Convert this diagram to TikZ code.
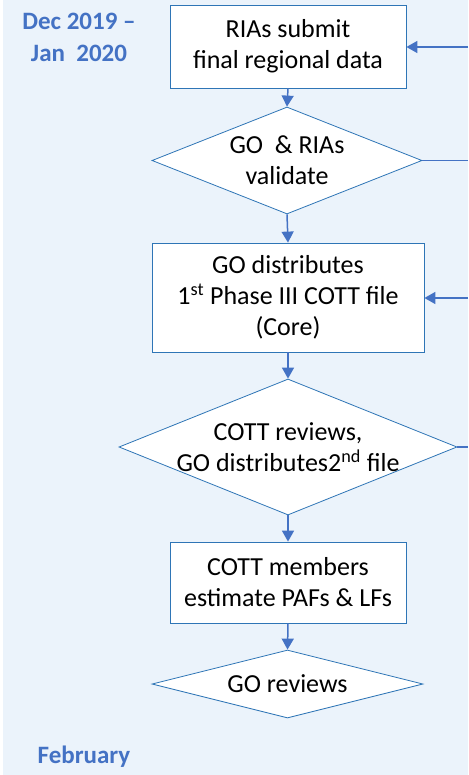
\documentclass[tikz,border=0pt]{standalone}
\usepackage{fontspec}
\setmainfont{Carlito}
\usetikzlibrary{shapes.geometric,arrows.meta}
\definecolor{bg}{RGB}{235,243,251}
\definecolor{edgec}{RGB}{46,117,182}
\definecolor{connc}{RGB}{68,114,196}
\begin{document}
\begin{tikzpicture}[x=1pt,y=-1pt,
  box/.style={draw=edgec,line width=0.8pt,fill=white,rectangle,inner sep=0pt},
  dia/.style={draw=edgec,line width=0.8pt,fill=white,diamond,inner sep=0pt},
  txt/.style={font=\fontsize{26}{31}\selectfont,align=center,text=black,inner sep=0pt},
  link/.style={draw=connc,line width=1.5pt},
  arr/.style={link,-{Triangle[length=11pt,width=12pt]}},
  datelbl/.style={font=\fontsize{25}{32}\selectfont\bfseries,text=connc,align=center,inner sep=0pt}]
\useasboundingbox (0,0) rectangle (468,775);
\fill[bg] (3,0) rectangle (468,775);
% shapes
\node[box,minimum width=236pt,minimum height=83pt] (b1) at (288,46.5) {};
\node[dia,minimum width=270pt,minimum height=107pt] (d1) at (287,160.5) {};
\node[box,minimum width=272pt,minimum height=109pt] (b2) at (288,297.5) {};
\node[dia,minimum width=338pt,minimum height=136pt] (d2) at (288,447) {};
\node[box,minimum width=236pt,minimum height=81pt] (b3) at (288,582.5) {};
\node[dia,minimum width=271pt,minimum height=68pt] (d3) at (287.5,684) {};
% texts
\node[txt] (t1) at (b1) {RIAs submit\\final regional data};
\node[txt] (t2) at (d1) {GO\ \ \& RIAs\\validate};
\node[txt] (t3) at (b2) {GO distributes\\1\textsuperscript{st} Phase III COTT file\\(Core)};
\node[txt] (t4) at (d2) {COTT reviews,\\GO distributes2\textsuperscript{nd} file};
\node[txt] (t5) at (b3) {COTT members\\estimate PAFs \& LFs};
\node[txt] (t6) at (d3) {GO reviews};
\node[datelbl] (dl) at (79,37) {Dec 2019 –\\Jan\ \ 2020};
\node[datelbl] (fb) at (84,757) {February};
% connectors
\draw[arr] (b1.south) -- (d1.north);
\draw[arr] (d1.south) -- (b2.north);
\draw[arr] (b2.south) -- (d2.north);
\draw[arr] (d2.south) -- (b3.north);
\draw[arr] (b3.south) -- (d3.north);
\coordinate (e0) at (468,47);
\coordinate (e1) at (468,160.5);
\coordinate (e2) at (468,298);
\coordinate (e3) at (468,447);
\draw[arr] (e0) -- (e0 -| b1.east);
\draw[link] (d1.east) -- (e1);
\draw[arr] (e2) -- (e2 -| b2.east);
\draw[link] (d2.east) -- (e3);
\end{tikzpicture}
\end{document}
